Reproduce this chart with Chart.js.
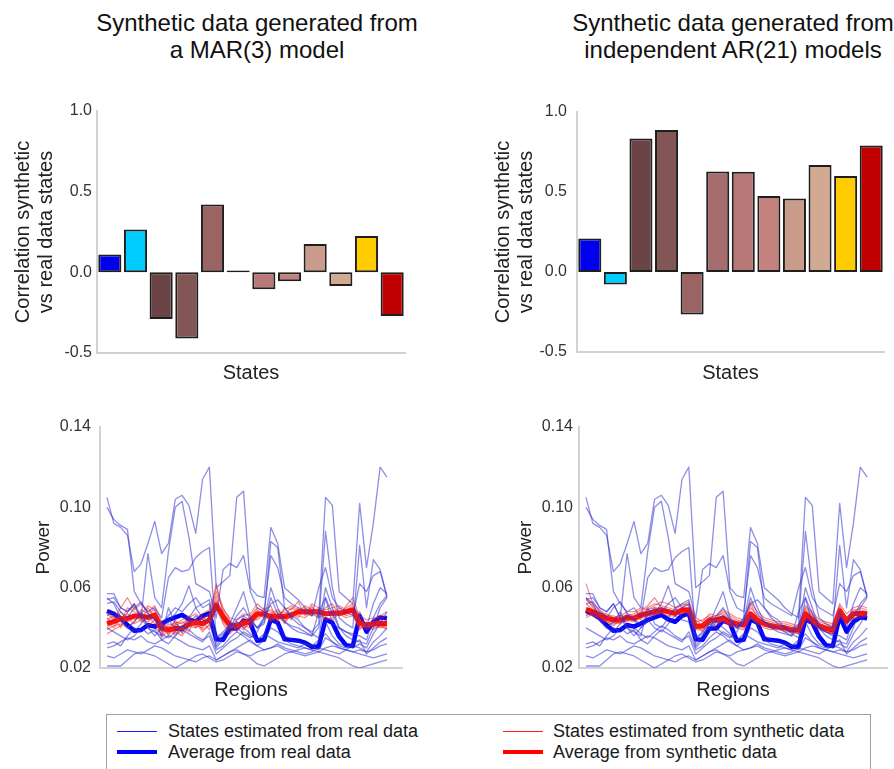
<!DOCTYPE html>
<html>
<head>
<meta charset="utf-8">
<script src="https://cdn.jsdelivr.net/npm/chart.js@4.4.1/dist/chart.umd.min.js"></script>
<style>
  body { margin: 0; background: #fff; width: 894px; height: 769px; position: relative; overflow: hidden;
         font-family: "Liberation Sans", Arial, sans-serif; color: #222; }
  canvas { position: absolute; }
  .title { position: absolute; width: 400px; text-align: center; font-size: 24px; line-height: 27px; color: #111; }
  #legend { position: absolute; left: 106px; top: 714px; width: 763px; height: 60px; border: 1px solid #a0a0a0; }
  .lg { position: absolute; font-size: 18px; line-height: 20px; white-space: nowrap; color: #1a1a1a; }
  .ln { position: absolute; width: 40px; }
</style>
</head>
<body>
<div class="title" style="left:57px;top:9px">Synthetic data generated from<br>a MAR(3) model</div>
<div class="title" style="left:533px;top:9px">Synthetic data generated from<br>independent AR(21) models</div>

<canvas id="barMar" width="420" height="300" style="left:0;top:90px"></canvas>
<canvas id="barAr" width="414" height="300" style="left:480px;top:90px"></canvas>
<canvas id="lineMar" width="420" height="310" style="left:0;top:400px"></canvas>
<canvas id="lineAr" width="414" height="310" style="left:480px;top:400px"></canvas>

<div id="legend"></div>
<div class="ln" style="left:117px;top:731px;height:1.4px;background:#2020ff"></div>
<div class="lg" style="left:168px;top:721px">States estimated from real data</div>
<div class="ln" style="left:117px;top:750px;height:4px;background:#0000ff"></div>
<div class="lg" style="left:168px;top:742px">Average from real data</div>
<div class="ln" style="left:503px;top:731px;height:1.4px;background:#ff2020"></div>
<div class="lg" style="left:553px;top:721px">States estimated from synthetic data</div>
<div class="ln" style="left:503px;top:750px;height:4px;background:#ff0000"></div>
<div class="lg" style="left:553px;top:742px">Average from synthetic data</div>

<script>
// --- data ---
var states = ["1", "2", "3", "4", "5", "6", "7", "8", "9", "10", "11", "12"];
var stateColors = ["#0000ee", "#00ccff", "#6b4545", "#835656", "#9a6464", "#a56d6d",
                   "#b87878", "#c4827e", "#c99b8a", "#d2aa92", "#ffcc00", "#c00000"];
var corrMar = [0.11, 0.265, -0.29, -0.41, 0.42, 0.012, -0.105, -0.055, 0.175, -0.085, 0.225, -0.27];
var corrAr = [0.21, -0.078, 0.835, 0.887, -0.265, 0.628, 0.626, 0.475, 0.459, 0.669, 0.60, 0.79];

var regions = [1, 2, 3, 4, 5, 6, 7, 8, 9, 10, 11, 12, 13, 14, 15, 16, 17, 18, 19, 20, 21,
               22, 23, 24, 25, 26, 27, 28, 29, 30, 31, 32, 33, 34, 35, 36, 37, 38, 39, 40, 41, 42];

// power per region for each state estimated from real data
var realStates = [
  [0.100,0.094,0.091,0.089,0.058,0.052,0.048,0.050,0.045,0.065,0.070,0.068,0.069,0.075,0.078,0.080,0.035,0.038,0.042,0.050,0.058,0.045,0.040,0.045,0.083,0.080,0.050,0.046,0.044,0.040,0.038,0.042,0.088,0.060,0.045,0.042,0.040,0.081,0.050,0.074,0.069,0.055],
  [0.105,0.092,0.090,0.086,0.068,0.072,0.082,0.093,0.077,0.082,0.104,0.106,0.101,0.087,0.114,0.120,0.060,0.063,0.066,0.105,0.108,0.060,0.056,0.055,0.090,0.082,0.060,0.057,0.054,0.050,0.047,0.045,0.105,0.101,0.058,0.055,0.052,0.102,0.070,0.092,0.120,0.115],
  [0.054,0.055,0.050,0.048,0.052,0.045,0.077,0.055,0.050,0.078,0.100,0.103,0.085,0.062,0.060,0.058,0.045,0.069,0.072,0.070,0.076,0.058,0.050,0.048,0.076,0.070,0.055,0.052,0.050,0.048,0.046,0.060,0.070,0.055,0.050,0.048,0.046,0.062,0.058,0.066,0.068,0.056],
  [0.052,0.053,0.048,0.045,0.050,0.053,0.047,0.044,0.042,0.046,0.050,0.048,0.052,0.055,0.050,0.052,0.033,0.036,0.040,0.046,0.050,0.044,0.040,0.043,0.060,0.050,0.043,0.040,0.038,0.037,0.036,0.040,0.060,0.050,0.040,0.038,0.036,0.048,0.040,0.052,0.060,0.057],
  [0.021,0.021,0.021,0.024,0.027,0.028,0.027,0.026,0.024,0.022,0.020,0.022,0.024,0.026,0.027,0.025,0.023,0.024,0.026,0.028,0.027,0.025,0.022,0.021,0.023,0.025,0.027,0.028,0.027,0.026,0.027,0.028,0.027,0.026,0.025,0.023,0.021,0.020,0.021,0.022,0.023,0.024],
  [0.026,0.025,0.027,0.029,0.028,0.027,0.029,0.031,0.030,0.028,0.026,0.025,0.024,0.023,0.025,0.026,0.024,0.026,0.028,0.029,0.027,0.026,0.028,0.029,0.030,0.031,0.029,0.028,0.029,0.030,0.029,0.028,0.030,0.031,0.030,0.029,0.028,0.027,0.026,0.025,0.026,0.027],
  [0.030,0.031,0.033,0.035,0.034,0.036,0.033,0.032,0.034,0.036,0.035,0.033,0.031,0.030,0.029,0.031,0.024,0.026,0.028,0.030,0.032,0.034,0.031,0.029,0.030,0.032,0.030,0.029,0.028,0.027,0.028,0.030,0.029,0.028,0.027,0.029,0.031,0.030,0.028,0.029,0.031,0.032],
  [0.032,0.033,0.031,0.036,0.040,0.038,0.042,0.040,0.037,0.035,0.038,0.041,0.039,0.036,0.034,0.036,0.027,0.030,0.033,0.035,0.038,0.036,0.034,0.037,0.035,0.033,0.032,0.031,0.030,0.032,0.031,0.029,0.035,0.033,0.031,0.030,0.032,0.034,0.027,0.030,0.033,0.035],
  [0.055,0.052,0.045,0.040,0.038,0.042,0.046,0.044,0.040,0.043,0.047,0.052,0.061,0.050,0.045,0.047,0.035,0.037,0.040,0.044,0.046,0.043,0.040,0.042,0.055,0.047,0.043,0.041,0.040,0.038,0.036,0.048,0.055,0.042,0.040,0.038,0.037,0.036,0.034,0.045,0.052,0.056],
  [0.057,0.057,0.050,0.048,0.052,0.045,0.040,0.038,0.036,0.050,0.042,0.040,0.045,0.050,0.052,0.054,0.031,0.036,0.042,0.040,0.037,0.035,0.038,0.045,0.052,0.054,0.050,0.045,0.042,0.040,0.037,0.035,0.055,0.047,0.040,0.036,0.034,0.033,0.032,0.040,0.050,0.055],
  [0.046,0.048,0.044,0.040,0.043,0.048,0.040,0.036,0.040,0.044,0.040,0.038,0.042,0.046,0.044,0.043,0.030,0.034,0.038,0.043,0.040,0.037,0.034,0.036,0.046,0.041,0.036,0.034,0.033,0.032,0.031,0.034,0.043,0.036,0.032,0.031,0.030,0.032,0.030,0.037,0.042,0.048],
  [0.040,0.038,0.036,0.034,0.036,0.040,0.037,0.039,0.034,0.032,0.036,0.039,0.037,0.035,0.033,0.038,0.029,0.031,0.035,0.038,0.036,0.033,0.031,0.034,0.040,0.038,0.034,0.032,0.031,0.030,0.029,0.033,0.037,0.033,0.030,0.029,0.028,0.029,0.028,0.033,0.036,0.040]
];
var realAvg = [0.0484,0.0470,0.0447,0.0414,0.0386,0.0389,0.0414,0.0406,0.0422,0.0439,0.0452,0.0464,0.0442,0.0430,0.0460,0.0472,0.0343,0.0340,0.0397,0.0397,0.0436,0.0422,0.0336,0.0340,0.0442,0.0426,0.0343,0.0340,0.0336,0.0326,0.0306,0.0306,0.0442,0.0426,0.0356,0.0314,0.0309,0.0459,0.0381,0.0430,0.0452,0.0447];

// states estimated from MAR(3) synthetic data
var marStates = [
  [0.047,0.044,0.050,0.055,0.049,0.052,0.048,0.051,0.043,0.036,0.042,0.044,0.046,0.040,0.047,0.049,0.060,0.050,0.044,0.038,0.046,0.047,0.052,0.049,0.051,0.043,0.050,0.049,0.053,0.046,0.051,0.045,0.050,0.052,0.046,0.051,0.055,0.045,0.040,0.044,0.046,0.048],
  [0.039,0.041,0.042,0.040,0.043,0.047,0.041,0.044,0.036,0.041,0.037,0.040,0.038,0.045,0.039,0.041,0.054,0.043,0.039,0.043,0.040,0.042,0.045,0.050,0.043,0.047,0.044,0.047,0.045,0.050,0.046,0.049,0.044,0.045,0.049,0.046,0.047,0.039,0.043,0.040,0.041,0.039],
  [0.044,0.046,0.040,0.048,0.051,0.044,0.050,0.045,0.041,0.038,0.044,0.037,0.044,0.042,0.045,0.043,0.062,0.047,0.042,0.041,0.043,0.045,0.049,0.046,0.047,0.049,0.046,0.050,0.048,0.051,0.049,0.047,0.046,0.049,0.047,0.050,0.052,0.044,0.041,0.043,0.044,0.042],
  [0.040,0.043,0.046,0.043,0.045,0.049,0.047,0.049,0.039,0.040,0.036,0.041,0.040,0.044,0.041,0.046,0.049,0.046,0.041,0.040,0.042,0.043,0.048,0.047,0.045,0.047,0.048,0.045,0.049,0.048,0.050,0.048,0.048,0.046,0.048,0.049,0.050,0.041,0.042,0.041,0.043,0.042],
  [0.043,0.040,0.045,0.047,0.044,0.046,0.044,0.047,0.041,0.037,0.040,0.039,0.043,0.041,0.040,0.044,0.056,0.044,0.040,0.042,0.041,0.040,0.047,0.045,0.044,0.045,0.043,0.046,0.047,0.047,0.046,0.050,0.047,0.048,0.046,0.047,0.048,0.042,0.039,0.042,0.040,0.041],
  [0.045,0.042,0.048,0.044,0.047,0.043,0.046,0.042,0.038,0.042,0.041,0.043,0.041,0.040,0.043,0.039,0.052,0.048,0.043,0.039,0.044,0.041,0.046,0.048,0.048,0.044,0.047,0.044,0.050,0.049,0.047,0.049,0.046,0.047,0.050,0.048,0.049,0.043,0.040,0.042,0.042,0.044],
  [0.037,0.039,0.041,0.045,0.042,0.044,0.043,0.046,0.035,0.039,0.038,0.036,0.041,0.043,0.038,0.042,0.050,0.042,0.037,0.041,0.039,0.044,0.044,0.047,0.046,0.048,0.042,0.048,0.046,0.045,0.048,0.046,0.045,0.044,0.047,0.045,0.046,0.040,0.041,0.039,0.041,0.040],
  [0.048,0.045,0.043,0.050,0.048,0.047,0.051,0.049,0.042,0.040,0.043,0.042,0.045,0.047,0.044,0.047,0.058,0.049,0.045,0.044,0.047,0.046,0.050,0.048,0.049,0.046,0.049,0.051,0.049,0.047,0.052,0.050,0.049,0.050,0.051,0.049,0.051,0.046,0.044,0.045,0.045,0.046]
];
var marAvg = [0.0422,0.0430,0.0445,0.0447,0.0459,0.0459,0.0452,0.0464,0.0397,0.0389,0.0397,0.0397,0.0419,0.0426,0.0422,0.0439,0.0514,0.0456,0.0414,0.0409,0.0422,0.0439,0.0469,0.0469,0.0456,0.0456,0.0456,0.0464,0.0480,0.0480,0.0480,0.0480,0.0470,0.0472,0.0472,0.0480,0.0489,0.0422,0.0414,0.0419,0.0422,0.0422];

// states estimated from AR(21) synthetic data
var arStates = [
  [0.062,0.052,0.049,0.046,0.046,0.044,0.047,0.046,0.048,0.050,0.052,0.051,0.050,0.049,0.052,0.051,0.043,0.044,0.046,0.045,0.048,0.046,0.044,0.043,0.050,0.046,0.044,0.043,0.042,0.042,0.041,0.040,0.049,0.046,0.043,0.042,0.041,0.050,0.045,0.049,0.049,0.048],
  [0.047,0.046,0.044,0.043,0.042,0.043,0.044,0.043,0.045,0.046,0.047,0.047,0.046,0.046,0.047,0.048,0.039,0.039,0.042,0.043,0.043,0.041,0.041,0.040,0.045,0.043,0.041,0.040,0.039,0.039,0.038,0.037,0.045,0.043,0.040,0.038,0.037,0.047,0.042,0.045,0.046,0.046],
  [0.052,0.049,0.048,0.046,0.045,0.046,0.046,0.045,0.047,0.049,0.050,0.050,0.049,0.048,0.050,0.050,0.042,0.042,0.045,0.044,0.046,0.044,0.043,0.042,0.048,0.045,0.043,0.042,0.041,0.041,0.040,0.039,0.048,0.045,0.042,0.041,0.040,0.049,0.044,0.048,0.048,0.048],
  [0.045,0.047,0.045,0.044,0.043,0.042,0.044,0.044,0.046,0.045,0.048,0.048,0.047,0.047,0.048,0.047,0.040,0.040,0.043,0.044,0.044,0.042,0.042,0.041,0.046,0.044,0.041,0.041,0.040,0.040,0.039,0.038,0.046,0.044,0.041,0.039,0.039,0.048,0.043,0.046,0.047,0.047],
  [0.055,0.050,0.047,0.045,0.045,0.045,0.046,0.047,0.049,0.051,0.055,0.050,0.049,0.048,0.050,0.052,0.044,0.041,0.045,0.046,0.047,0.045,0.043,0.042,0.052,0.045,0.042,0.042,0.041,0.040,0.040,0.039,0.050,0.047,0.042,0.040,0.039,0.051,0.045,0.048,0.050,0.049],
  [0.049,0.048,0.046,0.044,0.044,0.043,0.045,0.045,0.045,0.047,0.049,0.049,0.048,0.047,0.049,0.049,0.041,0.041,0.044,0.043,0.045,0.043,0.042,0.041,0.047,0.044,0.042,0.041,0.041,0.040,0.039,0.039,0.047,0.044,0.041,0.040,0.039,0.049,0.044,0.047,0.047,0.047],
  [0.050,0.046,0.045,0.043,0.041,0.044,0.043,0.046,0.044,0.048,0.046,0.050,0.047,0.049,0.047,0.050,0.042,0.038,0.043,0.041,0.044,0.041,0.040,0.039,0.045,0.042,0.040,0.039,0.040,0.038,0.038,0.037,0.044,0.042,0.039,0.038,0.037,0.046,0.042,0.045,0.045,0.046],
  [0.054,0.051,0.047,0.047,0.045,0.046,0.048,0.048,0.050,0.049,0.051,0.053,0.052,0.050,0.051,0.053,0.045,0.043,0.047,0.046,0.049,0.047,0.045,0.044,0.053,0.048,0.045,0.044,0.043,0.043,0.042,0.041,0.051,0.048,0.044,0.043,0.042,0.052,0.047,0.050,0.051,0.050]
];
var arAvg = [0.0492,0.0480,0.0464,0.0447,0.0439,0.0439,0.0452,0.0447,0.0464,0.0472,0.0480,0.0489,0.0480,0.0472,0.0489,0.0489,0.0406,0.0409,0.0439,0.0439,0.0450,0.0430,0.0420,0.0415,0.0470,0.0440,0.0420,0.0410,0.0404,0.0400,0.0390,0.0388,0.0470,0.0440,0.0410,0.0397,0.0388,0.0485,0.0435,0.0470,0.0472,0.0470];

// --- drawing ---
Chart.defaults.font.family = '"Liberation Sans", Arial, sans-serif';
Chart.defaults.color = "#333";

var axisBorder = { color: "#d2d2d2", width: 2 };

function makeBarChart(id, values, box) {
  return new Chart(document.getElementById(id), {
    type: "bar",
    data: {
      labels: states,
      datasets: [{
        data: values,
        backgroundColor: stateColors,
        borderColor: "#1e1e1e",
        borderWidth: 2,
        borderSkipped: false,
        barPercentage: 0.9,
        categoryPercentage: 1,
      }],
    },
    options: {
      responsive: false,
      animation: false,
      layout: { padding: { left: 0, top: box.top, right: box.right, bottom: 0 } },
      plugins: { legend: { display: false }, tooltip: { enabled: false } },
      scales: {
        x: {
          grid: { display: false, drawTicks: false },
          border: axisBorder,
          ticks: { display: false },
          title: { display: true, text: "States", color: "#222", font: { size: 20 }, padding: { top: 0, bottom: 5 } },
          afterFit: function (s) { s.height = box.xh; },
        },
        y: {
          min: -0.5,
          max: 1,
          grid: { display: false, drawTicks: false },
          border: axisBorder,
          ticks: { stepSize: 0.5, padding: box.tickPad, font: { size: 16 },
                   callback: function (v) { return v.toFixed(1); } },
          title: { display: true, text: ["Correlation synthetic", "vs real data states"], color: "#222",
                   font: { size: 20, lineHeight: 1.15 }, padding: { top: 12, bottom: 0 } },
          afterFit: function (s) { s.width = box.yw; },
        },
      },
    },
  });
}

function points(arr) {
  return arr.map(function (v, i) { return { x: regions[i] - 1, y: v }; });
}

function makeLineChart(id, synthStates, synthAvg, box) {
  var datasets = [];
  realStates.forEach(function (s) {
    datasets.push({ data: points(s), borderColor: "rgba(50,50,210,0.55)", borderWidth: 1.3 });
  });
  synthStates.forEach(function (s) {
    datasets.push({ data: points(s), borderColor: "rgba(235,40,40,0.55)", borderWidth: 1.2 });
  });
  datasets.push({ data: points(synthAvg), borderColor: "#ff0000", borderWidth: 5 });
  datasets.push({ data: points(realAvg), borderColor: "#0000ff", borderWidth: 4.5 });

  return new Chart(document.getElementById(id), {
    type: "line",
    data: { datasets: datasets },
    options: {
      responsive: false,
      animation: false,
      layout: { padding: { left: 0, top: 27, right: box.right, bottom: 0 } },
      elements: { point: { radius: 0 }, line: { tension: 0, borderJoinStyle: "round" } },
      plugins: { legend: { display: false }, tooltip: { enabled: false } },
      scales: {
        x: {
          type: "linear",
          min: box.xMin,
          max: box.xMax,
          grid: { display: false, drawTicks: false },
          border: axisBorder,
          ticks: { display: false },
          title: { display: true, text: "Regions", color: "#222", font: { size: 20 }, padding: { top: 0, bottom: 8 } },
          afterFit: function (s) { s.height = 42; },
        },
        y: {
          min: 0.02,
          max: 0.14,
          grid: { display: false, drawTicks: false },
          border: axisBorder,
          ticks: { stepSize: 0.04, padding: box.tickPad, font: { size: 16 },
                   callback: function (v) { return v.toFixed(2); } },
          title: { display: true, text: "Power", color: "#222", font: { size: 19 }, padding: { top: box.titlePad, bottom: 0 } },
          afterFit: function (s) { s.width = box.yw; },
        },
      },
    },
  });
}

makeBarChart("barMar", corrMar, { top: 21, right: 15, xh: 37, yw: 97, tickPad: 5 });
makeBarChart("barAr", corrAr, { top: 22, right: 10, xh: 38, yw: 97, tickPad: 10 });
makeLineChart("lineMar", marStates, marAvg, { right: 18, yw: 100, tickPad: 9, titlePad: 32, xMin: -1.02, xMax: 43.2 });
makeLineChart("lineAr", arStates, arAvg, { right: 7, yw: 99, tickPad: 6, titlePad: 34, xMin: -1.02, xMax: 43.9 });
</script>
</body>
</html>
